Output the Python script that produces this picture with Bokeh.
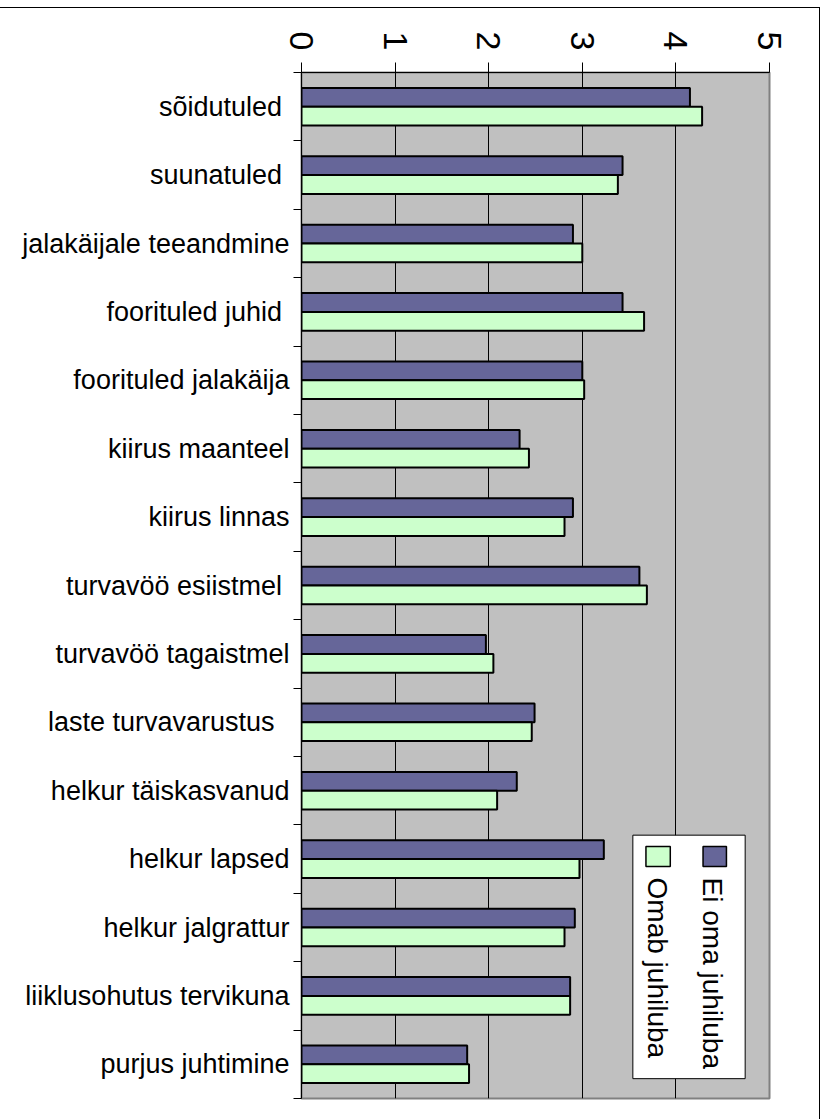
import math
from bokeh.plotting import figure
from bokeh.models import (Range1d, FixedTicker, BoxAnnotation, Label,
                          ColumnDataSource)
from bokeh.transform import dodge
from bokeh.embed import file_html
from bokeh.resources import INLINE

# ---- data ----
categories = ["sõidutuled ", "suunatuled ", "jalakäijale teeandmine",
              "foorituled juhid ", "foorituled jalakäija", "kiirus maanteel",
              "kiirus linnas", "turvavöö esiistmel ", "turvavöö tagaistmel",
              "laste turvavarustus  ", "helkur täiskasvanud", "helkur lapsed",
              "helkur jalgrattur", "liiklusohutus tervikuna", "purjus juhtimine"]
ei_oma = [4.15, 3.43, 2.90, 3.43, 3.00, 2.33, 2.90, 3.61, 1.97, 2.49,
          2.30, 3.23, 2.92, 2.87, 1.77]
omab = [4.28, 3.38, 3.00, 3.66, 3.02, 2.43, 2.81, 3.69, 2.05, 2.46,
        2.09, 2.97, 2.81, 2.87, 1.79]
series_names = ["Ei oma juhiluba", "Omab juhiluba"]
x_ticks = [0, 1, 2, 3, 4, 5]

DARK = "#666699"
LIGHT = "#CCFFCC"
FONT = "Liberation Sans"

n = len(categories)
slot = [n - i - 0.5 for i in range(n)]  # first category at the top
src = ColumnDataSource(dict(cat=categories, slot=slot, dark=ei_oma, light=omab))

p = figure(width=820, height=1112,
           y_range=Range1d(0, n),
           x_range=Range1d(x_ticks[0], x_ticks[-1]),
           x_axis_location="above",
           output_backend="svg", toolbar_location=None,
           min_border_left=301, min_border_right=51,
           min_border_top=64, min_border_bottom=22)

p.background_fill_color = "#C0C0C0"
p.border_fill_color = "white"
p.outline_line_color = "#808080"
p.outline_line_width = 2

p.hbar(y=dodge("slot", 0.1375), left=0, right="dark",
       height=0.275, source=src, fill_color=DARK, line_color="black",
       line_width=2)
p.hbar(y=dodge("slot", -0.1375), left=0, right="light",
       height=0.275, source=src, fill_color=LIGHT, line_color="black",
       line_width=2)

# grid
p.ygrid.visible = False
p.xgrid.ticker = FixedTicker(ticks=x_ticks)
p.xgrid.grid_line_color = "black"
p.xgrid.grid_line_width = 1

# top axis
xa = p.xaxis[0]
xa.ticker = FixedTicker(ticks=x_ticks)
xa.major_label_orientation = -math.pi / 2
xa.major_label_text_font = FONT
xa.major_label_text_font_size = "34px"
xa.major_label_text_color = "black"
xa.major_label_standoff = 12
xa.major_tick_out = 10
xa.major_tick_in = 0
xa.minor_tick_line_color = None
xa.axis_line_color = "black"
xa.major_tick_line_color = "black"

# left axis: labels at slot centres, tick marks at slot boundaries
ya = p.yaxis[0]
ya.ticker = FixedTicker(ticks=slot, minor_ticks=list(range(n + 1)))
ya.major_label_overrides = {s: c for s, c in zip(slot, categories)}
ya.major_tick_line_color = None
ya.major_tick_out = 0
ya.major_tick_in = 0
ya.minor_tick_out = 8
ya.minor_tick_in = 0
ya.minor_tick_line_color = "black"
ya.axis_line_color = "black"
ya.major_label_text_font = FONT
ya.major_label_text_font_size = "27px"
ya.major_label_text_color = "black"
ya.major_label_standoff = 4

# legend (rotated, drawn manually)
LEG = dict(left=3.54, right=4.74, top=3.85, bottom=0.29)
p.add_layout(BoxAnnotation(fill_color="white", fill_alpha=1.0,
                           line_color="black", line_width=1, line_alpha=1.0,
                           **LEG))
sw = [dict(left=4.29, right=4.54, top=3.684, bottom=3.392, fill_color=DARK),
      dict(left=3.68, right=3.94, top=3.684, bottom=3.392, fill_color=LIGHT)]
text_x = [4.39, 3.80]
for s, tx, name in zip(sw, text_x, series_names):
    p.add_layout(BoxAnnotation(fill_alpha=1.0, line_color="black",
                               line_width=1.5, line_alpha=1.0, **s))
    p.add_layout(Label(x=tx, y=3.23, text=name, angle=-math.pi / 2,
                       text_align="left", text_baseline="middle",
                       text_font=FONT, text_font_size="28px",
                       text_color="black"))

p.styles = {"margin-top": "7px", "border-top": "1px solid black",
            "border-right": "1px solid black"}

open("out.html", "w").write(file_html(p, INLINE))
